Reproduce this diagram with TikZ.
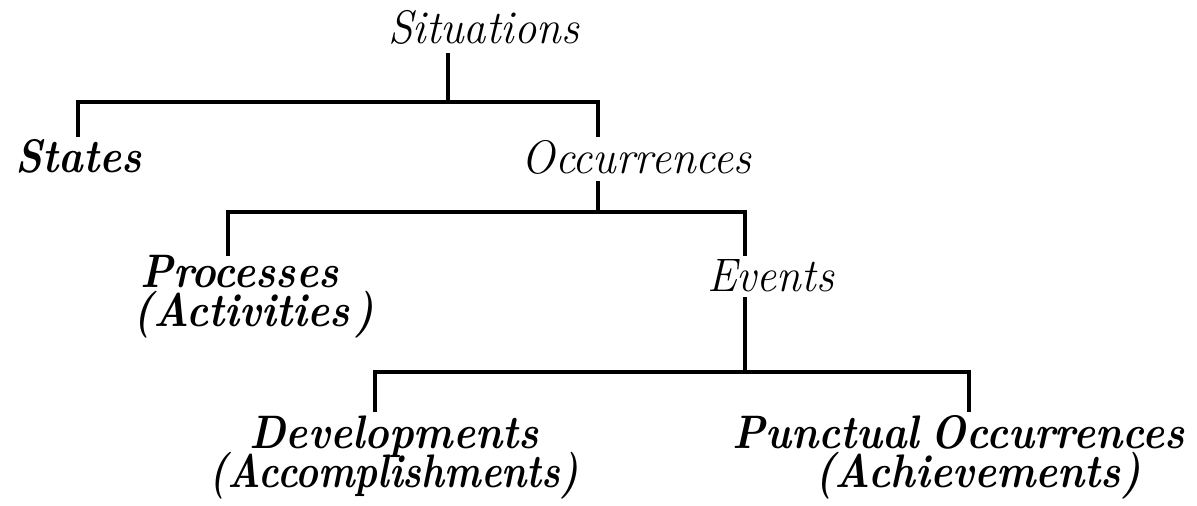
\documentclass[tikz,border=0pt]{standalone}
\usepackage{fontspec}
% two stacked lines, baseline of the box on the first line
\newcommand\stackc[2]{\vtop{\lineskiplimit=-\maxdimen\baselineskip=19.5pt\halign{\hfil##\hfil\cr#1\cr#2\cr}}}
\newcommand\stackl[2]{\vtop{\lineskiplimit=-\maxdimen\baselineskip=19.5pt\halign{##\hfil\cr#1\cr#2\cr}}}
% narrow the letters of a label
\newcommand\narrowb[1]{\scalebox{0.885}[1]{#1}}
\newcommand\narrowr[1]{\scalebox{0.95}[1]{#1}}
\begin{document}
\begin{tikzpicture}[x=0.5pt,y=-0.5pt,
  kind/.style={inner sep=0pt,font=\fontsize{23.5}{19.5}\selectfont\itshape},
  leaf/.style={kind,font=\fontsize{23.5}{19.5}\selectfont\bfseries\itshape},
  conn/.style={line width=1.6pt,line join=miter,line cap=rect}]
\useasboundingbox (0,0) rectangle (1197,505);

% categories
\node[kind,anchor=base] (sit) at (483.5,43) {\narrowr{Situations}};
\node[leaf,anchor=base] (sta) at (78.5,172) {\narrowb{States}};
\node[kind,anchor=base] (occ) at (636.5,173) {\narrowr{Occurrences}};
\node[leaf,anchor=base west] (pro) at (133,287) {\narrowb{\stackl{\hspace{4pt}Processes}{(Activities\hspace{2.5pt})}}};
\node[kind,anchor=base] (eve) at (770.5,291) {\narrowr{Events}};
\node[leaf,anchor=base] (dev) at (394,448) {\narrowb{\stackc{Developments}{\scalebox{0.93}[1]{(Accomplishments)}}}};
\node[leaf,anchor=base] (pun) at (958.5,448) {\narrowb{\stackc{Punctual\hspace{-3pt} Occurrences}{\hspace{22pt}(Achievements)}}};

% junction points of the tree
\coordinate (s0) at (448,55);  \coordinate (s1) at (448,102);
\coordinate (sL) at (78,135);  \coordinate (sR) at (598,135);
\coordinate (o0) at (598,183); \coordinate (o1) at (598,212);
\coordinate (oL) at (228,254); \coordinate (oR) at (745,254);
\coordinate (e0) at (745,299); \coordinate (e1) at (745,372);
\coordinate (eL) at (375,410); \coordinate (eR) at (969,410);

% Situations -> States / Occurrences
\draw[conn] (s0) -- (s1);
\draw[conn] (sL) |- (s1) -| (sR);
% Occurrences -> Processes / Events
\draw[conn] (o0) -- (o1);
\draw[conn] (oL) |- (o1) -| (oR);
% Events -> Developments / Punctual Occurrences
\draw[conn] (e0) -- (e1);
\draw[conn] (eL) |- (e1) -| (eR);
\end{tikzpicture}
\end{document}
